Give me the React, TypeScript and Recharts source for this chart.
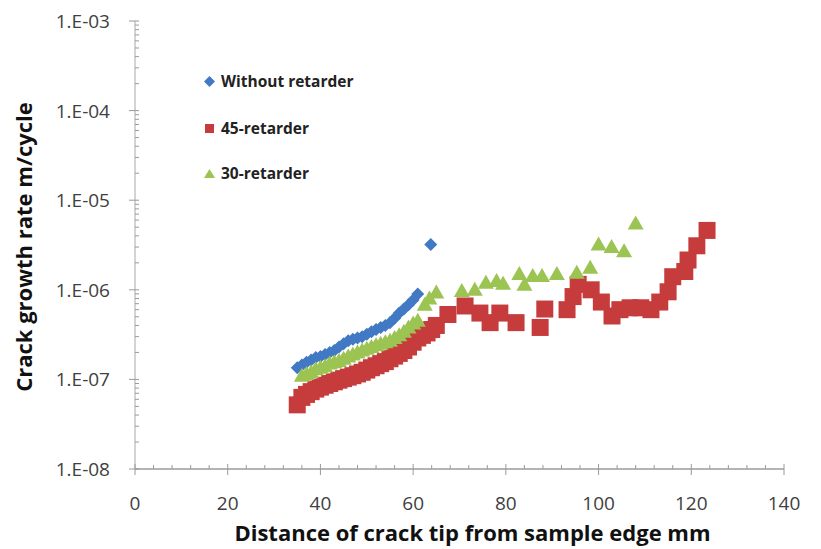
import { ScatterChart, Scatter, XAxis, YAxis, Label } from 'recharts';

const xTicks = [0, 20, 40, 60, 80, 100, 120, 140];
const xMinorTicks = [4, 8, 12, 16, 24, 28, 32, 36, 44, 48, 52, 56, 64, 68, 72, 76, 84, 88, 92, 96, 104, 108, 112, 116, 124, 128, 132, 136];
const yTicks = [1e-8, 1e-7, 1e-6, 1e-5, 1e-4, 1e-3];
const yTickLabels = ['1.E-08', '1.E-07', '1.E-06', '1.E-05', '1.E-04', '1.E-03'];
const yMinorTicks = [
  2e-8, 3e-8, 4e-8, 5e-8, 6e-8, 7e-8, 8e-8, 9e-8,
  2e-7, 3e-7, 4e-7, 5e-7, 6e-7, 7e-7, 8e-7, 9e-7,
  2e-6, 3e-6, 4e-6, 5e-6, 6e-6, 7e-6, 8e-6, 9e-6,
  2e-5, 3e-5, 4e-5, 5e-5, 6e-5, 7e-5, 8e-5, 9e-5,
  2e-4, 3e-4, 4e-4, 5e-4, 6e-4, 7e-4, 8e-4, 9e-4,
];

// Without retarder
const noRetX = [35, 36, 37, 38, 39, 40, 41, 42, 43, 44, 45, 46, 47, 48, 49, 50, 51, 52, 53, 54, 55, 56, 57, 58, 59, 60, 61, 63.8];
const noRetY = [1.35e-7, 1.45e-7, 1.55e-7, 1.65e-7, 1.75e-7, 1.8e-7, 1.9e-7, 2.0e-7, 2.1e-7, 2.3e-7, 2.5e-7, 2.7e-7, 2.8e-7, 2.9e-7, 3.0e-7, 3.2e-7, 3.4e-7, 3.6e-7, 3.8e-7, 4.0e-7, 4.3e-7, 4.8e-7, 5.5e-7, 6.1e-7, 6.8e-7, 7.7e-7, 9.0e-7, 3.2e-6];

// 45-retarder
const ret45X = [35, 36, 37, 38, 39, 40, 41, 42, 43, 44, 45, 46, 47, 48, 49, 50, 51, 52, 53, 54, 55, 56, 57, 58, 59, 60, 61, 62, 63, 64, 65, 67.5, 71.2, 74.4, 76.6, 78.7, 82.2, 87.4, 88.4, 93.2, 94.5, 95.6, 98.4, 100.6, 102.9, 104.6, 106.8, 109.1, 111.3, 113.2, 115, 116, 118.6, 119.3, 121.2, 123.4];
const ret45Y = [5.2e-8, 6.3e-8, 6.8e-8, 7.3e-8, 7.8e-8, 8.2e-8, 8.6e-8, 9.0e-8, 9.4e-8, 9.8e-8, 1.02e-7, 1.06e-7, 1.1e-7, 1.15e-7, 1.2e-7, 1.27e-7, 1.35e-7, 1.42e-7, 1.5e-7, 1.58e-7, 1.7e-7, 1.82e-7, 1.95e-7, 2.1e-7, 2.3e-7, 2.6e-7, 2.9e-7, 3.1e-7, 3.3e-7, 3.6e-7, 4.0e-7, 5.3e-7, 6.6e-7, 5.5e-7, 4.3e-7, 5.5e-7, 4.3e-7, 3.8e-7, 6.1e-7, 6.0e-7, 8.4e-7, 1.15e-6, 1.0e-6, 7.3e-7, 5.1e-7, 6.0e-7, 6.3e-7, 6.3e-7, 6.0e-7, 7.3e-7, 9.5e-7, 1.4e-6, 1.6e-6, 2.15e-6, 3.1e-6, 4.6e-6];

// 30-retarder
const ret30X = [36, 37, 38, 39, 40, 41, 42, 43, 44, 45, 46, 47, 48, 49, 50, 51, 52, 53, 54, 55, 56, 57, 58, 59, 60, 61, 62.5, 63.5, 65, 70.5, 73.3, 75.7, 78, 79.4, 82.9, 84, 85.8, 87.8, 91, 95.3, 98.2, 100, 102.8, 105.5, 108];
const ret30Y = [1.1e-7, 1.15e-7, 1.2e-7, 1.3e-7, 1.35e-7, 1.4e-7, 1.5e-7, 1.55e-7, 1.6e-7, 1.7e-7, 1.8e-7, 1.9e-7, 2.0e-7, 2.1e-7, 2.2e-7, 2.3e-7, 2.4e-7, 2.5e-7, 2.6e-7, 2.7e-7, 2.9e-7, 3.1e-7, 3.4e-7, 3.8e-7, 4.2e-7, 4.5e-7, 6.8e-7, 8.0e-7, 9.3e-7, 9.7e-7, 1.0e-6, 1.2e-6, 1.25e-6, 1.17e-6, 1.5e-6, 1.14e-6, 1.43e-6, 1.43e-6, 1.5e-6, 1.55e-6, 1.76e-6, 3.2e-6, 3.0e-6, 2.7e-6, 5.5e-6];

const BLUE = '#4179C4';
const RED = '#C63C3C';
const GREEN = '#9BC452';

const PLOT_LEFT = 135;
const PLOT_BOTTOM = 469;

const toPoints = (xs: number[], ys: number[]) => xs.map((x, i) => ({ x, y: ys[i] }));

const noRetData = toPoints(noRetX, noRetY);
const ret45Data = toPoints(ret45X, ret45Y);
const ret30Data = toPoints(ret30X, ret30Y);

const Diamond = (p: any) => {
  const { cx, cy } = p;
  const r = 6.5;
  return <path d={`M${cx},${cy - r}L${cx + r},${cy}L${cx},${cy + r}L${cx - r},${cy}Z`} fill={BLUE} />;
};

const Square = (p: any) => {
  const { cx, cy } = p;
  const s = 8.5;
  return <rect x={cx - s} y={cy - s} width={2 * s} height={2 * s} fill={RED} />;
};

const Triangle = (p: any) => {
  const { cx, cy } = p;
  return <path d={`M${cx},${cy - 8}L${cx + 8},${cy + 6}L${cx - 8},${cy + 6}Z`} fill={GREEN} />;
};

const font = '"Open Sans", sans-serif';
const tickColor = '#9a9a9a';

const XTick = (p: any) => {
  const v = p.payload.value;
  const x = p.payload.coordinate;
  if (xTicks.includes(v)) {
    return (
      <g>
        <line x1={x} x2={x} y1={PLOT_BOTTOM - 5} y2={PLOT_BOTTOM + 6} stroke={tickColor} />
        <text x={x} y={PLOT_BOTTOM + 41} textAnchor="middle" fontSize={19} fill="#404040" fontFamily={font}>
          {v}
        </text>
      </g>
    );
  }
  return <line x1={x} x2={x} y1={PLOT_BOTTOM - 4} y2={PLOT_BOTTOM} stroke={tickColor} />;
};

const YTick = (p: any) => {
  const v = p.payload.value;
  const y = p.payload.coordinate;
  const idx = yTicks.findIndex((t) => Math.abs(Math.log10(t) - Math.log10(v)) < 0.001);
  if (idx >= 0) {
    return (
      <g>
        <line x1={PLOT_LEFT - 6} x2={PLOT_LEFT + 4} y1={y} y2={y} stroke={tickColor} />
        <text x={110} y={y + 7} textAnchor="end" fontSize={19} fill="#404040" fontFamily={font}>
          {yTickLabels[idx]}
        </text>
      </g>
    );
  }
  return <line x1={PLOT_LEFT} x2={PLOT_LEFT + 4} y1={y} y2={y} stroke={tickColor} />;
};

const allXTicks = [...xTicks, ...xMinorTicks].sort((a, b) => a - b);
const allYTicks = [...yTicks, ...yMinorTicks].sort((a, b) => a - b);

const legendItems = [
  { name: 'Without retarder', top: 81, marker: 'd' },
  { name: '45-retarder', top: 128, marker: 's' },
  { name: '30-retarder', top: 173, marker: 't' },
];

function LegendMarker({ kind }: { kind: string }) {
  return (
    <svg width={11} height={11} style={{ display: 'block' }}>
      {kind === 'd' && <path d="M5.5,0L11,5.5L5.5,11L0,5.5Z" fill={BLUE} />}
      {kind === 's' && <rect x={1} y={1} width={9} height={9} fill={RED} />}
      {kind === 't' && <path d="M5.5,1L11,10L0,10Z" fill={GREEN} />}
    </svg>
  );
}

export default function App() {
  return (
    <div style={{ position: 'absolute', left: 0, top: 0, width: 821, height: 549, background: '#fff', fontFamily: font }}>
      <ScatterChart width={821} height={549} margin={{ top: 21, right: 37, bottom: 0, left: 0 }}>
        <XAxis
          type="number"
          dataKey="x"
          domain={[0, 140]}
          ticks={allXTicks}
          height={80}
          interval={0}
          tickLine={false}
          axisLine={{ stroke: '#b4b4b4', strokeWidth: 2 }}
          tick={XTick}
        >
          <Label
            content={(props: any) => {
              const vb = props.viewBox;
              return (
                <text x={vb.x + vb.width / 2 + 13} y={541} textAnchor="middle" fontSize={22} fontWeight={700} fill="#111" fontFamily={font}>
                  Distance of crack tip from sample edge mm
                </text>
              );
            }}
          />
        </XAxis>
        <YAxis
          type="number"
          dataKey="y"
          scale="log"
          domain={[1e-8, 1e-3]}
          ticks={allYTicks}
          interval={0}
          allowDataOverflow
          width={135}
          tickLine={false}
          axisLine={{ stroke: '#a8a8a8' }}
          tick={YTick}
        >
          <Label
            content={(props: any) => {
              const vb = props.viewBox;
              const cy = vb.y + vb.height / 2 + 2;
              return (
                <text x={32} y={cy} transform={`rotate(-90 32 ${cy})`} textAnchor="middle" fontSize={22} fontWeight={700} fill="#111" fontFamily={font}>
                  Crack growth rate m/cycle
                </text>
              );
            }}
          />
        </YAxis>
        <Scatter name="Without retarder" data={noRetData} shape={Diamond} isAnimationActive={false} />
        <Scatter name="45-retarder" data={ret45Data} shape={Square} isAnimationActive={false} />
        <Scatter name="30-retarder" data={ret30Data} shape={Triangle} isAnimationActive={false} />
      </ScatterChart>
      {legendItems.map((it) => (
        <div
          key={it.name}
          style={{ position: 'absolute', left: 204, top: it.top - 11, height: 22, display: 'flex', alignItems: 'center', gap: 6, fontSize: 15.5, fontWeight: 700, color: '#222', whiteSpace: 'nowrap' }}
        >
          <LegendMarker kind={it.marker} />
          <span>{it.name}</span>
        </div>
      ))}
    </div>
  );
}
